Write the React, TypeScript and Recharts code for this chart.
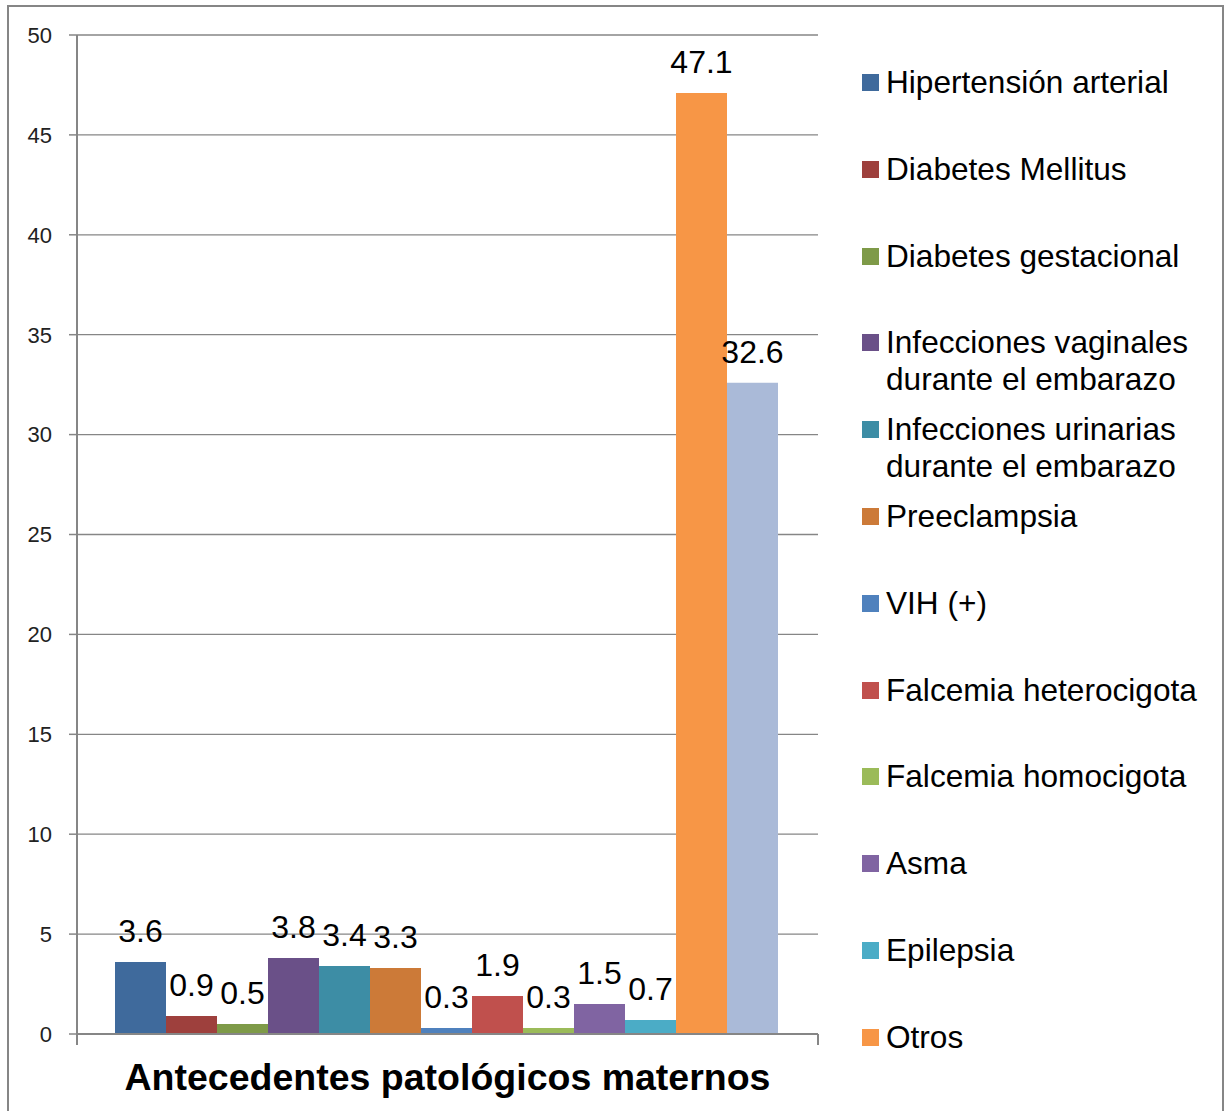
import { BarChart, Bar, XAxis, YAxis, CartesianGrid, LabelList, ReferenceLine } from "recharts";

const categories = ["Antecedentes patológicos maternos"];

const seriesNames = [
  "Hipertensión arterial",
  "Diabetes Mellitus",
  "Diabetes gestacional",
  "Infecciones vaginales durante el embarazo",
  "Infecciones urinarias durante el embarazo",
  "Preeclampsia",
  "VIH (+)",
  "Falcemia heterocigota",
  "Falcemia homocigota",
  "Asma",
  "Epilepsia",
  "Otros",
  "Ninguno",
];

const seriesValues = [3.6, 0.9, 0.5, 3.8, 3.4, 3.3, 0.3, 1.9, 0.3, 1.5, 0.7, 47.1, 32.6];

const seriesColors = [
  "#3F6A9C", "#9E403D", "#7E9A48", "#6A5088", "#3D8DA5", "#CC7A38",
  "#4F81BD", "#C0504D", "#9BBB59", "#8064A2", "#4BACC6", "#F79646",
  "#AABAD8",
];

// the last series' legend entry falls below the visible frame
const legendCount = 12;

const yTicks = [0, 5, 10, 15, 20, 25, 30, 35, 40, 45, 50];

const data = categories.map((name) => {
  const row: Record<string, string | number> = { name };
  seriesValues.forEach((v, i) => (row["s" + i] = v));
  return row;
});

const FONT = "'Liberation Sans', Arial, sans-serif";
const AXIS = "#868686";

function CategoryTick(props: any) {
  const { x, y, payload } = props;
  return (
    <text x={x} y={y} dy={48} textAnchor="middle" fontFamily={FONT} fontSize={37.5} fontWeight="bold" fill="#000">
      {payload.value}
    </text>
  );
}

function LegendList() {
  return (
    <ul style={{ position: "absolute", left: 853, top: 57, margin: 0, padding: 0, listStyle: "none", fontFamily: FONT, fontSize: 31.6, lineHeight: "37px", color: "#000" }}>
      {seriesNames.slice(0, legendCount).map((n, i) => (
        <li key={n} style={{ height: 86.8, display: "flex", alignItems: "flex-start" }}>
          <span style={{ width: 17, height: 17, background: seriesColors[i], marginTop: 10, marginRight: 7, flex: "none" }} />
          <span style={{ width: 335 }}>{n}</span>
        </li>
      ))}
    </ul>
  );
}

export default function App() {
  return (
    <div style={{ position: "absolute", left: 7, top: 5, width: 1213, height: 1104, border: `2px solid ${AXIS}`, borderBottom: "none", overflow: "hidden", background: "#fff" }}>
      <BarChart width={1213} height={1190} data={data} margin={{ top: 28, right: 404, bottom: 83, left: 8 }} barCategoryGap={38} barGap={0}>
        <CartesianGrid vertical={false} stroke={AXIS} strokeWidth={1.3} />
        <XAxis dataKey="name" tickLine={false} axisLine={{ stroke: AXIS, strokeWidth: 2 }} height={80} tick={<CategoryTick />} interval={0} />
        <YAxis
          domain={[0, 50]}
          ticks={yTicks}
          width={60}
          tickSize={8}
          tickMargin={17}
          axisLine={{ stroke: AXIS, strokeWidth: 2 }}
          tickLine={{ stroke: AXIS, strokeWidth: 1.5 }}
          tick={{ fontSize: 22, fill: "#222", fontFamily: FONT }}
          allowDataOverflow
        />
        <ReferenceLine position="start" segment={[{ x: categories[0], y: 0 }, { x: categories[0], y: -0.55 }]} stroke={AXIS} strokeWidth={2} ifOverflow="visible" />
        <ReferenceLine position="end" segment={[{ x: categories[0], y: 0 }, { x: categories[0], y: -0.55 }]} stroke={AXIS} strokeWidth={2} ifOverflow="visible" />
        {seriesNames.map((n, i) => (
          <Bar key={n} dataKey={"s" + i} name={n} fill={seriesColors[i]} isAnimationActive={false}>
            <LabelList dataKey={"s" + i} position="top" offset={20} fill="#000" style={{ fontSize: 32, fontFamily: FONT }} />
          </Bar>
        ))}
      </BarChart>
      <LegendList />
    </div>
  );
}
